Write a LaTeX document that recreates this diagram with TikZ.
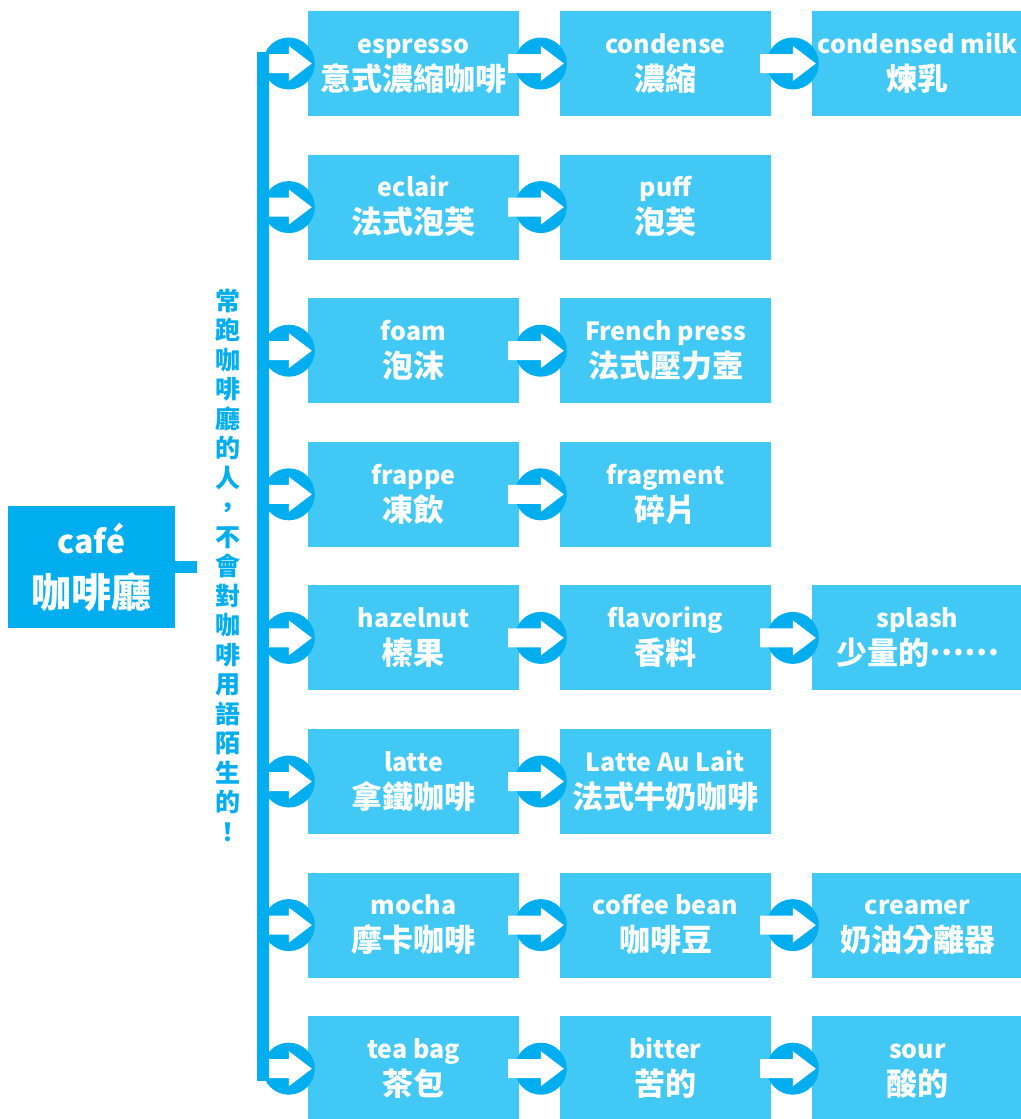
\documentclass[tikz,border=0pt]{standalone}
\usepackage{fontspec}
\setmainfont{Noto Sans CJK TC}
\usetikzlibrary{calc}
\definecolor{hub}{HTML}{00AEEF}
\definecolor{leaf}{HTML}{42C8F4}
\tikzset{
  term/.style={fill=leaf, text=white, minimum width=211pt, minimum height=105pt,
    inner sep=0pt, align=center, font=\bfseries\fontsize{25}{37}\selectfont},
  root/.style={fill=hub, text=white, minimum width=167pt, minimum height=122pt,
    inner sep=0pt, align=center, font=\bfseries\fontsize{32}{53.5}\selectfont},
}
% english word over its chinese name
\newcommand{\duo}[2]{\rule{0pt}{22pt}#1\\{\fontsize{31}{37}\selectfont #2}\rule[-5.5pt]{0pt}{5.5pt}}
\begin{document}
\begin{tikzpicture}[x=1pt,y=-1pt]
\useasboundingbox (0,0) rectangle (1020,1119);

% dark circle with a white arrow, from a start point to a box
\newcommand{\hop}[2]{
\fill [hub] ($(#2.west)+(-19,0)$) circle (26pt);
\fill [white] ($(#1)+(0,-9.5)$) -| ($(#2.west)+(-19,-17.5)$) -- ($(#2.west)+(4,0)$)
  -- ($(#2.west)+(-19,17.5)$) |- ($(#1)+(0,9.5)$) -- cycle;
}

\node (cafe) [root] at (91.5,567)
  {\rule{0pt}{34pt}café\\{\fontsize{40}{53.5}\selectfont 咖啡廳}\rule[-7.5pt]{0pt}{7.5pt}};
\coordinate (stub) at (197,567);
\draw [hub, line width=12pt] (cafe.east) -- (stub);

\node (slogan) [text=hub, align=center, font=\bfseries\fontsize{25}{29.5}\selectfont] at (228,565)
  {常\\跑\\咖\\啡\\廳\\的\\人\\，\\不\\會\\對\\咖\\啡\\用\\語\\陌\\生\\的\\！};

\node (bar) [fill=hub, minimum width=12pt, minimum height=1029pt, inner sep=0pt] at (263,566.5) {};

\node (espresso) [term] at (413.5,63.5) {\duo{espresso}{意式濃縮咖啡}};
\node (condense) [term] at (665.5,63.5) {\duo{condense}{濃縮}};
\node (condmilk) [term] at (917.5,63.5) {\duo{condensed milk}{煉乳}};

\node (eclair) [term] at (413.5,207.1) {\duo{eclair}{法式泡芙}};
\node (puff) [term] at (665.5,207.1) {\duo{puff}{泡芙}};

\node (foam) [term] at (413.5,350.7) {\duo{foam}{泡沫}};
\node (press) [term] at (665.5,350.7) {\duo{French press}{法式壓力壺}};

\node (frappe) [term] at (413.5,494.3) {\duo{frappe}{凍飲}};
\node (fragment) [term] at (665.5,494.3) {\duo{fragment}{碎片}};

\node (hazelnut) [term] at (413.5,637.9) {\duo{hazelnut}{榛果}};
\node (flavoring) [term] at (665.5,637.9) {\duo{flavoring}{香料}};
\node (splash) [term] at (917.5,637.9) {\duo{splash}{少量的\raisebox{9pt}{……}}};

\node (latte) [term] at (413.5,781.5) {\duo{latte}{拿鐵咖啡}};
\node (aulait) [term] at (665.5,781.5) {\duo{Latte Au Lait}{法式牛奶咖啡}};

\node (mocha) [term] at (413.5,925.1) {\duo{mocha}{摩卡咖啡}};
\node (bean) [term] at (665.5,925.1) {\duo{coffee bean}{咖啡豆}};
\node (creamer) [term] at (917.5,925.1) {\duo{creamer}{奶油分離器}};

\node (teabag) [term] at (413.5,1068.7) {\duo{tea bag}{茶包}};
\node (bitter) [term] at (665.5,1068.7) {\duo{bitter}{苦的}};
\node (sour) [term] at (917.5,1068.7) {\duo{sour}{酸的}};

\foreach \b in {espresso,eclair,foam,frappe,hazelnut,latte,mocha,teabag}{
\coordinate (s) at (bar.east |- \b.west);
\hop{s}{\b}
}
\foreach \a/\b in {espresso/condense,condense/condmilk,eclair/puff,foam/press,
  frappe/fragment,hazelnut/flavoring,flavoring/splash,latte/aulait,
  mocha/bean,bean/creamer,teabag/bitter,bitter/sour}{
\coordinate (s) at ($(\a.east)+(-11,0)$);
\hop{s}{\b}
}
\end{tikzpicture}
\end{document}
